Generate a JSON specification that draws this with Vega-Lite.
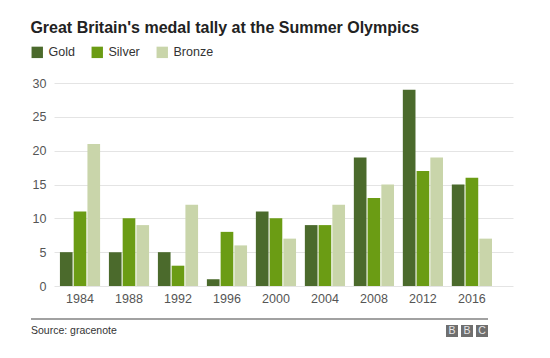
{
  "$schema": "https://vega.github.io/schema/vega-lite/v6.json",
  "padding": {"left": 30, "top": 20, "right": 5, "bottom": 5},
  "background": "white",
  "title": {
    "text": "Great Britain's medal tally at the Summer Olympics",
    "anchor": "start",
    "frame": "bounds",
    "fontSize": 16,
    "font": "Liberation Sans",
    "fontWeight": "bold",
    "color": "#222222",
    "offset": 10
  },
  "columns": 1,
  "align": "none",
  "spacing": 13,
  "resolve": {"legend": {"color": "independent"}},
  "concat": [
    {
      "width": 459,
      "height": 203,
      "data": {
        "values": [
          {"year": "1984", "medal": "Gold", "count": 5},
          {"year": "1984", "medal": "Silver", "count": 11},
          {"year": "1984", "medal": "Bronze", "count": 21},
          {"year": "1988", "medal": "Gold", "count": 5},
          {"year": "1988", "medal": "Silver", "count": 10},
          {"year": "1988", "medal": "Bronze", "count": 9},
          {"year": "1992", "medal": "Gold", "count": 5},
          {"year": "1992", "medal": "Silver", "count": 3},
          {"year": "1992", "medal": "Bronze", "count": 12},
          {"year": "1996", "medal": "Gold", "count": 1},
          {"year": "1996", "medal": "Silver", "count": 8},
          {"year": "1996", "medal": "Bronze", "count": 6},
          {"year": "2000", "medal": "Gold", "count": 11},
          {"year": "2000", "medal": "Silver", "count": 10},
          {"year": "2000", "medal": "Bronze", "count": 7},
          {"year": "2004", "medal": "Gold", "count": 9},
          {"year": "2004", "medal": "Silver", "count": 9},
          {"year": "2004", "medal": "Bronze", "count": 12},
          {"year": "2008", "medal": "Gold", "count": 19},
          {"year": "2008", "medal": "Silver", "count": 13},
          {"year": "2008", "medal": "Bronze", "count": 15},
          {"year": "2012", "medal": "Gold", "count": 29},
          {"year": "2012", "medal": "Silver", "count": 17},
          {"year": "2012", "medal": "Bronze", "count": 19},
          {"year": "2016", "medal": "Gold", "count": 15},
          {"year": "2016", "medal": "Silver", "count": 16},
          {"year": "2016", "medal": "Bronze", "count": 7}
        ]
      },
      "mark": {"type": "bar"},
      "encoding": {
        "x": {
          "field": "year",
          "type": "ordinal",
          "scale": {"paddingInner": 0.18, "paddingOuter": 0.275, "align": 0.22},
          "axis": {
            "title": null,
            "labelAngle": 0,
            "ticks": false,
            "domain": false,
            "labelFontSize": 12.5,
            "labelColor": "#555555",
            "labelPadding": 6,
            "labelFont": "Liberation Sans"
          }
        },
        "xOffset": {
          "field": "medal",
          "type": "nominal",
          "sort": ["Gold", "Silver", "Bronze"],
          "scale": {"paddingInner": 0.08}
        },
        "y": {
          "field": "count",
          "type": "quantitative",
          "scale": {"domain": [0, 30], "nice": false},
          "axis": {
            "title": null,
            "values": [0, 5, 10, 15, 20, 25, 30],
            "ticks": false,
            "domain": false,
            "gridColor": "#e4e4e4",
            "gridWidth": 1,
            "labelFontSize": 12.5,
            "labelColor": "#555555",
            "labelPadding": 8,
            "labelFont": "Liberation Sans",
            "minExtent": 23,
            "maxExtent": 23
          }
        },
        "color": {
          "field": "medal",
          "type": "nominal",
          "sort": ["Gold", "Silver", "Bronze"],
          "scale": {"domain": ["Gold", "Silver", "Bronze"], "range": ["#4b6a2c", "#6b9c14", "#c9d5aa"]},
          "legend": {
            "title": null,
            "orient": "none",
            "legendX": -23,
            "legendY": -37,
            "direction": "horizontal",
            "symbolType": "square",
            "symbolSize": 130,
            "symbolStrokeWidth": 0,
            "labelFontSize": 12.5,
            "labelColor": "#333333",
            "labelFont": "Liberation Sans",
            "labelOffset": 5,
            "columnPadding": 16
          }
        }
      }
    },
    {
      "spacing": 5,
      "vconcat": [
        {
          "width": 434,
          "height": 1,
          "data": {"values": [{"note": "rule"}]},
          "mark": {"type": "rule", "color": "#444444", "strokeWidth": 1.2, "xOffset": -23},
          "encoding": {
            "x": {"datum": 0, "type": "quantitative", "scale": {"domain": [0, 1]}, "axis": null},
            "x2": {"datum": 1},
            "y": {"datum": 1, "type": "quantitative", "scale": {"domain": [0, 1]}, "axis": null}
          }
        },
        {
          "spacing": 0,
          "hconcat": [
            {
              "width": 392,
              "height": 12,
              "data": {"values": [{"note": "Source: gracenote"}]},
              "mark": {"type": "text", "align": "left", "baseline": "middle", "fontSize": 10.5, "font": "Liberation Sans", "color": "#333333", "xOffset": -23},
              "encoding": {
                "x": {"datum": 0, "type": "quantitative", "scale": {"domain": [0, 1]}, "axis": null},
                "y": {"datum": 0.5, "type": "quantitative", "scale": {"domain": [0, 1]}, "axis": null},
                "text": {"field": "note"}
              }
            },
            {
              "width": 42,
              "height": 12,
              "data": {"values": [{"id": 1, "letter": "B"}, {"id": 2, "letter": "B"}, {"id": 3, "letter": "C"}]},
              "layer": [
                {
                  "mark": {"type": "rect", "color": "#6f6f6f"},
                  "encoding": {
                    "x": {"field": "id", "type": "ordinal", "scale": {"paddingInner": 0.2, "paddingOuter": 0}, "axis": null},
                    "y": {"datum": 1, "type": "quantitative", "scale": {"domain": [0, 1]}, "axis": null},
                    "y2": {"datum": 0}
                  }
                },
                {
                  "mark": {"type": "text", "align": "center", "baseline": "middle", "fontSize": 10.5, "font": "Liberation Sans", "color": "#e6e6e6"},
                  "encoding": {
                    "x": {"field": "id", "type": "ordinal", "axis": null},
                    "y": {"datum": 0.5, "type": "quantitative", "axis": null},
                    "text": {"field": "letter"}
                  }
                }
              ]
            }
          ]
        }
      ]
    }
  ],
  "config": {
    "view": {"stroke": null},
    "font": "Liberation Sans"
  }
}
